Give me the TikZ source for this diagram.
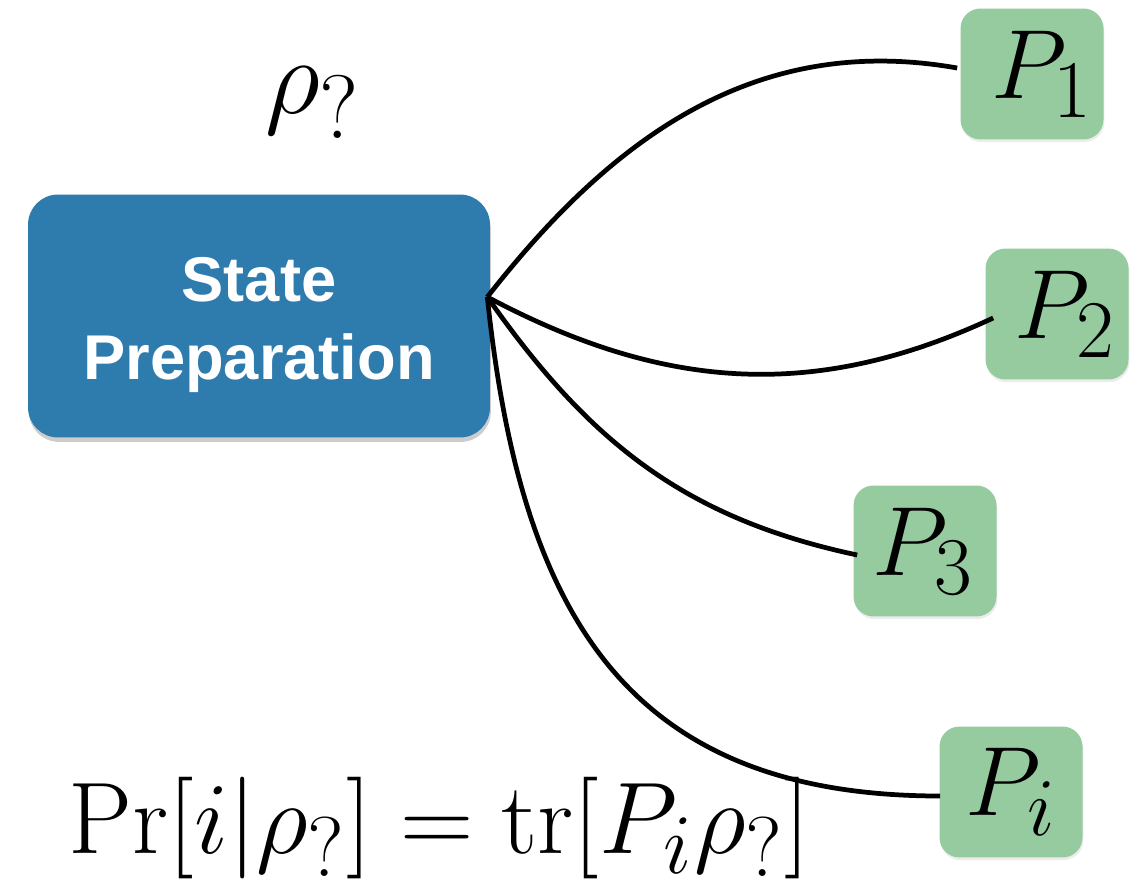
\documentclass[tikz,border=0pt]{standalone}
\usepackage{fontspec}
\newfontfamily\boxfont{Liberation Sans}
\usetikzlibrary{shadows}

\definecolor{prepblue}{HTML}{2E7BAE}
\definecolor{projgreen}{HTML}{95CB9F}

\begin{document}
\begin{tikzpicture}[
    % Style of the blue preparation box
    prep box/.style={
        rectangle, rounded corners=0.6cm, fill=prepblue,
        minimum width=9.24cm, minimum height=4.86cm,
        drop shadow={shadow xshift=0.5pt, shadow yshift=-2.5pt, opacity=0.4}
    },
    prep text/.style={
        text=white, align=center,
        font=\boxfont\bfseries\fontsize{36}{44}\selectfont
    },
    % Style of the green projector boxes
    proj box/.style={
        rectangle, rounded corners=0.4cm, fill=projgreen, inner sep=0pt,
        minimum width=2.86cm, minimum height=2.62cm,
        drop shadow={shadow xshift=0.5pt, shadow yshift=-1.5pt, opacity=0.15}
    },
    % Large math labels
    big math/.style={font=\Huge, scale=2.25},
    % Style of the connecting curves
    wire/.style={line width=2.7pt},
x=0.02cm, y=0.02cm]

    % Fixed frame of the picture
    \useasboundingbox (0,0) rectangle (1135,-892);

    % Preparation box and the common start point of the curves
    \node[prep box] (prep) at (259,-316) {};
    \node[prep text] (preptext) at ([shift={(0,-9)}]prep.center) {State\\Preparation};
    \coordinate (src) at ([shift={(-3,19)}]prep.east);

    % Projector boxes
    \node[proj box] (proj1) at (1032,-74) {};
    \node[proj box] (proj2) at (1057,-314) {};
    \node[proj box] (proj3) at (925,-551) {};
    \node[proj box] (proji) at (1011,-792) {};
    \node[big math] (lab1) at ([shift={(10,0)}]proj1.center) {$P_1$};
    \node[big math] (lab2) at ([shift={(8,0)}]proj2.center) {$P_2$};
    \node[big math] (lab3) at ([shift={(-2,0)}]proj3.center) {$P_3$};
    \node[big math] (labi) at (proji) {$P_i$};

    % Curves from the preparation to the projectors
    \draw[wire] (src) to[out=52, in=170] ([shift={(-3,6)}]proj1.west);
    \draw[wire] (src) to[out=-28, in=205] ([shift={(8,-4)}]proj2.west);
    \draw[wire] (src) to[out=-55, in=168] ([shift={(4,-4)}]proj3.west);
    \draw[wire] (src) to[out=-84, in=180, looseness=1.2] ([shift={(1,-4)}]proji.west);

    % Unknown state and the Born rule
    \node[big math, scale=1.1, anchor=base] (rho) at (313,-113) {$\rho_?$};
    \node[big math, scale=1.035, anchor=base west, inner sep=0pt] (born) at (68,-853)
        {$\Pr[i|\rho_?] = \mathrm{tr}[P_i\rho_?]$};
\end{tikzpicture}
\end{document}
